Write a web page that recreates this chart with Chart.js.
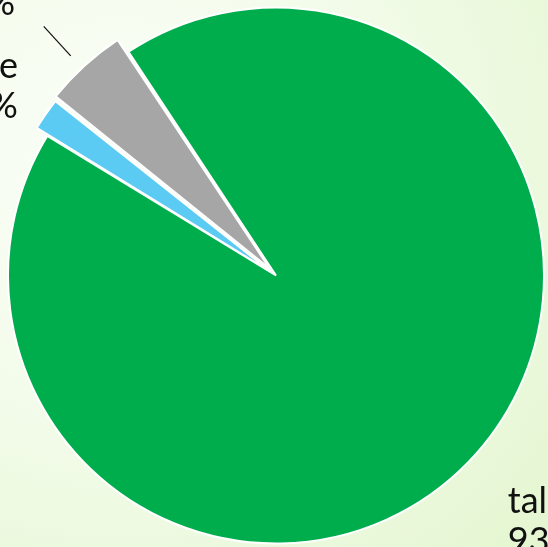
<!DOCTYPE html>
<html>
<head>
<meta charset="utf-8">
<script src="https://cdn.jsdelivr.net/npm/chart.js@4.4.1/dist/chart.umd.min.js"></script>
<style>
  html, body { margin: 0; padding: 0; }
  body {
    width: 548px; height: 547px; overflow: hidden;
    background: radial-gradient(circle at 22% 30%, #fbfef8 0%, #f4fcec 40%, #e4f6d0 100%);
  }
  #wrap { width: 548px; height: 547px; position: relative; }
</style>
</head>
<body>
<div id="wrap"><canvas id="pie"></canvas></div>
<script>
const categories = ['tal', 'Mobile', 'Other'];
const values = [93, 2, 5];
const colors = ['#00ad4d', '#5ccbf4', '#a6a6a6'];

// where each data label sits: distance from centre, side it is aligned on, small nudges
const labelPlace = [
  { dist: 318, align: 'left', dx: 3, dy: 25 },
  { dist: 315, align: 'right', dx: 0, dy: -8 },
  { dist: 387, align: 'right', dx: 0, dy: -6, leader: [300, 340] }
];

const dataLabels = {
  id: 'dataLabels',
  afterDatasetsDraw(chart) {
    const ctx = chart.ctx;
    const meta = chart.getDatasetMeta(0);
    const total = values.reduce((a, b) => a + b, 0);
    ctx.save();
    ctx.font = '36px Lato';
    ctx.fillStyle = '#111';
    ctx.textBaseline = 'middle';
    meta.data.forEach((arc, i) => {
      const p = labelPlace[i];
      const mid = (arc.startAngle + arc.endAngle) / 2;
      const cx = arc.x, cy = arc.y;
      const x = cx + Math.cos(mid) * p.dist + p.dx;
      const y = cy + Math.sin(mid) * p.dist + p.dy;
      ctx.textAlign = p.align;
      ctx.fillText(categories[i], x, y - 20);
      ctx.fillText(Math.round(values[i] / total * 100) + '%', x, y + 20);
      if (p.leader) {
        ctx.beginPath();
        ctx.strokeStyle = '#111';
        ctx.lineWidth = 1.2;
        ctx.moveTo(cx + Math.cos(mid) * p.leader[0] - 3, cy + Math.sin(mid) * p.leader[0] + 2);
        ctx.lineTo(cx + Math.cos(mid) * p.leader[1] - 3, cy + Math.sin(mid) * p.leader[1] + 2);
        ctx.stroke();
      }
    });
    ctx.restore();
  }
};

new Chart(document.getElementById('pie').getContext('2d'), {
  type: 'pie',
  data: {
    labels: categories,
    datasets: [{
      data: values,
      backgroundColor: colors,
      borderColor: '#ffffff',
      borderWidth: 2,
      offset: [0, 28, 38],
      hoverOffset: 0
    }]
  },
  options: {
    responsive: true,
    maintainAspectRatio: false,
    animation: false,
    rotation: -33.4,
    radius: 268,
    layout: { padding: { left: 8, right: 4, top: 8, bottom: 4 } },
    plugins: {
      legend: { display: false },
      tooltip: { enabled: false }
    }
  },
  plugins: [dataLabels]
});
</script>
</body>
</html>
